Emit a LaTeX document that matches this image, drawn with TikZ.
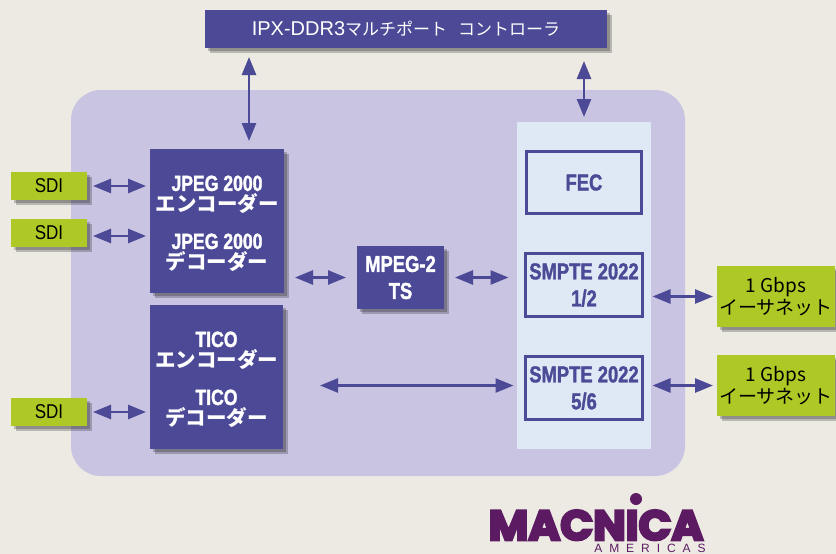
\documentclass[tikz,border=0pt]{standalone}
\usepackage{fontspec}
\usetikzlibrary{arrows.meta,shadows}

\setmainfont{Noto Sans CJK JP}
\newfontfamily\headfont[FakeStretch=0.8,BoldFeatures={FakeBold=1.5}]{Liberation Sans}
\newfontfamily\thinfont[FakeStretch=0.85]{Liberation Sans}
\newfontfamily\widefont{Liberation Sans}
\newfontfamily\logofont[FakeStretch=1.03,BoldFeatures={FakeBold=6}]{Poppins}
\newfontfamily\subfont[LetterSpace=58]{Liberation Sans}

\definecolor{bgcol}{HTML}{EDEAE3}
\definecolor{panelcol}{HTML}{C8C4E1}
\definecolor{bluecol}{HTML}{4C4A96}
\definecolor{columncol}{HTML}{DFE8F5}
\definecolor{greencol}{HTML}{AEC925}
\definecolor{logocol}{HTML}{5C1A62}

\tikzset{
  softshadow/.style={drop shadow={shadow xshift=3pt,shadow yshift=-3pt,fill=black,opacity=.22},
                     drop shadow={shadow xshift=5pt,shadow yshift=-5pt,fill=black,opacity=.22}},
  block/.style={fill=bluecol,text=white,inner sep=0pt,outer sep=0pt,align=center,softshadow},
  codec/.style={block,font=\bfseries\fontsize{20.5}{21}\selectfont},
  port/.style={fill=greencol,text=black,inner sep=0pt,outer sep=0pt,align=center,softshadow},
  sdiport/.style={port,minimum width=76pt,minimum height=28pt,font=\thinfont\fontsize{20}{20}\selectfont},
  gbpsport/.style={port,minimum width=118pt,minimum height=61pt,font=\fontsize{19}{22}\selectfont},
  heavy/.style={font=\headfont\bfseries\fontsize{23}{27}\selectfont},
  inner/.style={draw=bluecol,line width=3pt,fill=columncol,text=bluecol,inner sep=0pt,outer sep=0pt,align=center,heavy},
  dbl/.style={draw=bluecol,line width=2.6pt,{Triangle[length=18pt,width=14pt]}-{Triangle[length=18pt,width=14pt]}}
}
\newcommand{\headtxt}[1]{{\headfont\fontsize{22}{22}\selectfont #1}}

\begin{document}
\begin{tikzpicture}[x=1pt,y=-1pt]
\useasboundingbox (0,0) rectangle (836,554);
\fill[bgcol] (0,0) rectangle (836,554);

%background panel and the light column

\node[fill=panelcol,rounded corners=30pt,minimum width=614pt,minimum height=386pt,inner sep=0pt] (panel) at (378,283) {};
\node[fill=columncol,minimum width=134pt,minimum height=327pt,inner sep=0pt,outer sep=0pt] (column) at (584,285.5) {};

%memory controller

\node[block,minimum width=402pt,minimum height=38pt,font=\fontsize{17}{17}\selectfont] (ipx) at (406,29) {{\widefont\fontsize{20}{20}\selectfont IPX-DDR3}マルチポート\hspace{11pt}コントローラ};

%codec blocks

\node[codec,minimum width=134pt,minimum height=144pt] (jpeg) at (217,221) {\rule{0pt}{21pt}\headtxt{JPEG 2000}\\エンコーダー\\[16pt]\headtxt{JPEG 2000}\\デコーダー};
\node[codec,minimum width=133pt,minimum height=144pt] (tico) at (216.5,377) {\rule{0pt}{21pt}\headtxt{TICO}\\エンコーダー\\[16pt]\headtxt{TICO}\\デコーダー};
\node[block,heavy,minimum width=87pt,minimum height=63pt] (mpeg) at (400.5,277.5) {MPEG-2\\TS};

%blocks in the column

\node[inner,minimum width=115pt,minimum height=62pt] (fec) at (584,182.5) {FEC};
\node[inner,minimum width=117pt,minimum height=63pt] (smpteA) at (584,285) {SMPTE 2022\\1/2};
\node[inner,minimum width=117pt,minimum height=63pt] (smpteB) at (584,388) {SMPTE 2022\\5/6};

%outside ports

\node[sdiport] (sdiA) at (49,186) {SDI};
\node[sdiport] (sdiB) at (49,233) {SDI};
\node[sdiport] (sdiC) at (49,412) {SDI};

\node[gbpsport] (gbpsA) at (776,296.5) {1 Gbps\\イーサネット};
\node[gbpsport] (gbpsB) at (776,385.5) {1 Gbps\\イーサネット};

%connections

\draw[dbl,shorten <=9pt,shorten >=8pt] (ipx.south -| 249,0) -- (jpeg.north -| 249,0);
\draw[dbl,shorten <=13pt,shorten >=5pt] (ipx.south -| column.north) -- (column.north);

\draw[dbl,shorten <=6pt,shorten >=4pt] (sdiA.east) -- (sdiA.east -| jpeg.west);
\draw[dbl,shorten <=6pt,shorten >=4pt] ([yshift=-3pt]sdiB.east) -- ([yshift=-3pt]sdiB.east -| jpeg.west);
\draw[dbl,shorten <=6pt,shorten >=4pt] (sdiC.east) -- (sdiC.east -| tico.west);

\draw[dbl,shorten <=11pt,shorten >=11pt] (mpeg.west -| jpeg.east) -- (mpeg.west);
\draw[dbl,shorten <=11pt,shorten >=17pt] (mpeg.east) -- (mpeg.east -| smpteA.west);
\draw[dbl,shorten <=37pt,shorten >=12pt] (gbpsB.west -| tico.east) -- (gbpsB.west -| smpteB.west);

\draw[dbl,shorten <=10pt,shorten >=4pt] (gbpsA.west -| smpteA.east) -- (gbpsA.west);
\draw[dbl,shorten <=10pt,shorten >=4pt] (gbpsB.west -| smpteB.east) -- (gbpsB.west);

%logo

\node[text=logocol,inner sep=0pt,text height=32pt,text depth=0pt,font=\logofont\bfseries\fontsize{42}{42}\selectfont] (macnica) at (596,524) {MACNICA};
\fill[logocol] (636,499) circle [radius=6];
\node[text=logocol,inner sep=0pt,text height=9pt,text depth=0pt,font=\subfont\fontsize{12}{12}\selectfont] (americas) at (650,547.5) {AMERICAS};
\end{tikzpicture}
\end{document}
